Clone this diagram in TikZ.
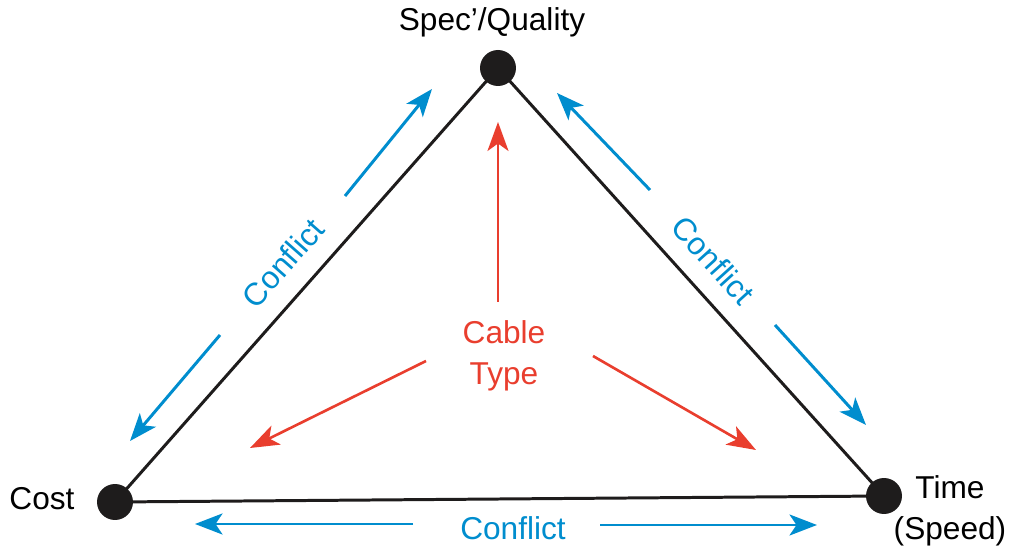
\documentclass[tikz,border=0pt]{standalone}
\usepackage{fontspec}
\setmainfont{Liberation Sans}
\usetikzlibrary{arrows.meta, positioning, calc}
\definecolor{conflictblue}{RGB}{0, 141, 206}
\definecolor{cablered}{RGB}{233, 62, 46}
\definecolor{edgeblack}{RGB}{30, 28, 28}

\begin{document}
\begin{tikzpicture}[x=0.02cm, y=-0.02cm,
        vertex/.style={circle, fill=edgeblack, inner sep=0pt, minimum size=0.72cm},
        edge/.style={edgeblack, line width=1.7pt},
        conflict/.style={conflictblue, line width=1.7pt, -{Stealth[length=0.55cm, width=0.42cm, inset=0.14cm]}},
        cable/.style={cablered, line width=1.5pt, -{Stealth[length=0.58cm, width=0.42cm, inset=0.15cm]}},
        lbl/.style={font=\fontsize{18}{23}\selectfont, align=center, inner sep=0pt}]
        \useasboundingbox (0,0) rectangle (1009,550);

        % vertices
        \node[vertex] (Q) at (498,68) {};
        \node[vertex] (C) at (115,502) {};
        \node[vertex] (T) at (884,496) {};
        \node[lbl] (qlbl) at (492,22) {Spec'/Quality};
        \node[lbl] (clbl) at (42,499) {Cost};
        \node[lbl] (tlbl) at (950,511) {Time\\(Speed)};

        % triangle
        \draw[edge] (C.center) -- (Q.center) -- (T.center) -- cycle;

        % conflicts
        \node[lbl, conflictblue, rotate=48.6] (cl) at (283,263) {Conflict};
        \node[lbl, conflictblue, rotate=-47.9] (cr) at (713,260) {Conflict};
        \node[lbl, conflictblue] (cb) at (513,528) {Conflict};
        \coordinate (l1) at (345,196); \coordinate (l2) at (432,89);
        \coordinate (l3) at (220,335); \coordinate (l4) at (130,441);
        \coordinate (r1) at (650,190); \coordinate (r2) at (557,93);
        \coordinate (r3) at (775,325); \coordinate (r4) at (866,425);
        \coordinate (b1) at (413,524); \coordinate (b2) at (195,524);
        \coordinate (b3) at (600,525); \coordinate (b4) at (817,525);
        \draw[conflict] (l1) -- (l2);
        \draw[conflict] (l3) -- (l4);
        \draw[conflict] (r1) -- (r2);
        \draw[conflict] (r3) -- (r4);
        \draw[conflict] (b1) -- (b2);
        \draw[conflict] (b3) -- (b4);

        % cable type
        \node[lbl, cablered] (ct) at (504,356) {Cable\\Type};
        \coordinate (u1) at (498,302); \coordinate (u2) at (498,122);
        \coordinate (s1) at (426,361); \coordinate (s2) at (250,448);
        \coordinate (e1) at (593,356); \coordinate (e2) at (756,450);
        \draw[cable] (u1) -- (u2);
        \draw[cable] (s1) -- (s2);
        \draw[cable] (e1) -- (e2);
    \end{tikzpicture}
\end{document}
